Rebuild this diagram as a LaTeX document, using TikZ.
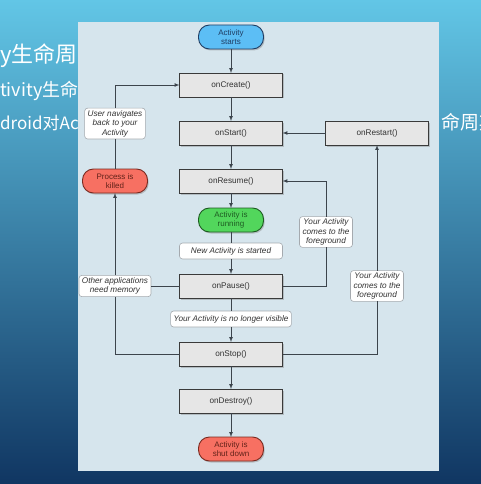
\documentclass[tikz,border=0pt]{standalone}
\usepackage{fontspec}
\setmainfont{Liberation Sans}
\newfontfamily\cjk{Noto Sans CJK SC}
\usetikzlibrary{arrows,positioning,shadows}
\definecolor{slidetop}{RGB}{98,198,230}
\definecolor{slidemid}{RGB}{58,162,212}
\definecolor{slidebot}{RGB}{16,54,98}
\definecolor{panelbg}{RGB}{214,229,237}
\definecolor{boxfill}{RGB}{230,230,230}
\definecolor{boxline}{RGB}{58,58,58}
\definecolor{flowline}{RGB}{60,68,76}
\definecolor{noteline}{RGB}{165,170,175}
\definecolor{startfill}{RGB}{92,190,245}
\definecolor{startline}{RGB}{32,62,100}
\definecolor{runfill}{RGB}{82,214,92}
\definecolor{runline}{RGB}{30,92,34}
\definecolor{endfill}{RGB}{247,112,98}
\definecolor{endline}{RGB}{122,42,32}
\tikzset{stage/.style={rectangle,draw=boxline,fill=boxfill,line width=0.9pt,outer sep=0pt,minimum width=103pt,minimum height=24pt,inner sep=0pt,text=black!80,font=\fontsize{8.2}{9}\selectfont,drop shadow={shadow xshift=1.2pt,shadow yshift=-1.5pt,opacity=0.4}}}
\tikzset{terminal/.style={rectangle,rounded corners=11pt,line width=0.9pt,outer sep=0pt,minimum width=65pt,minimum height=24pt,inner sep=0pt,align=center,font=\fontsize{8}{9}\selectfont,drop shadow={shadow xshift=1.2pt,shadow yshift=-1.5pt,opacity=0.4}}}
\tikzset{memo/.style={rectangle,rounded corners=3pt,draw=noteline,fill=white,line width=0.6pt,outer sep=0pt,inner xsep=3pt,inner ysep=2pt,align=center,text=black!80,font=\fontsize{8.2}{9.6}\selectfont\itshape}}
\tikzset{link/.style={line width=0.7pt,draw=flowline}}
\tikzset{toArrow/.style={-latex,line width=0.7pt,draw=flowline}}
\tikzset{slidetext/.style={text=white,inner sep=0pt,anchor=base west}}

\begin{document}
\begin{tikzpicture}[x=1pt,y=-1pt]
\useasboundingbox (0,0) rectangle (481,484);
\shade[top color=slidetop,middle color=slidemid,bottom color=slidebot] (0,0) rectangle (481,484);
% slide text behind the picture
\node (line1) [slidetext,font=\cjk\fontsize{22}{24}\selectfont] at (0,63) {y生命周};
\node (line2) [slidetext,font=\cjk\fontsize{18}{20}\selectfont] at (0,96) {tivity生命};
\node (line3) [slidetext,font=\cjk\fontsize{17}{19}\selectfont] at (0,129) {droid对Ac};
\node (line4) [slidetext,font=\cjk\fontsize{19}{21}\selectfont] at (441,129) {命周期};
\fill[panelbg] (78,22) rectangle (439,471);
\begin{scope}[node distance=24pt]
	\node (starts) [terminal,draw=startline,fill=startfill,text=startline] at (231,37) {Activity\\starts};
	\node (create) [stage, below=of starts] {onCreate()};
	\node (start) [stage, below=of create] {onStart()};
	\node (restart) [stage, right=43pt of start] {onRestart()};
	\node (resume) [stage, below=of start] {onResume()};
	\node (running) [terminal,draw=runline,fill=runfill,text=runline, below=15pt of resume] {Activity is\\running};
	\node (newact) [memo,minimum width=103pt,minimum height=16pt, below=11pt of running] {New Activity is started};
	\node (pause) [stage, below=15pt of newact] {onPause()};
	\node (novis) [memo,minimum height=16pt, below=13pt of pause] {Your Activity is no longer visible};
	\node (stop) [stage, below=15pt of novis] {onStop()};
	\node (destroy) [stage, below=23pt of stop] {onDestroy()};
	\node (shut) [terminal,draw=endline,fill=endfill,text=endline!80!black, below=of destroy] {Activity is\\shut down};
	\node (killed) [terminal,draw=endline,fill=endfill,text=endline!80!black, left=32pt of resume] {Process is\\killed};
	\node (usernav) [memo,minimum width=60pt, above=30pt of killed] {User navigates\\back to your\\Activity};
	\node (othermem) [memo,minimum width=72pt] at (killed |- pause) {Other applications\\need memory};
	\node (fgone) [memo,minimum width=53pt] at (326,232) {Your Activity\\comes to the\\foreground};
	\node (fgtwo) [memo,minimum width=53pt] at (restart |- pause) {Your Activity\\comes to the\\foreground};
\end{scope}
% main column
\draw [toArrow] (starts) -- (create);
\draw [toArrow] (create) -- (start);
\draw [toArrow] (start) -- (resume);
\draw [toArrow] (resume) -- (running);
\draw [link] (running) -- (newact);
\draw [toArrow] (newact) -- (pause);
\draw [link] (pause) -- (novis);
\draw [toArrow] (novis) -- (stop);
\draw [toArrow] (stop) -- (destroy);
\draw [toArrow] (destroy) -- (shut);
% loops on the right
\draw [toArrow] (restart) -- (start);
\draw [link] (stop.east) -| (fgtwo);
\draw [toArrow] (fgtwo) -- (restart);
\draw [link] (pause.east) -| (fgone);
\draw [toArrow] (fgone) |- (resume.east);
% loops on the left
\draw [link] (pause) -- (othermem);
\draw [link] (stop.west) -| (othermem);
\draw [toArrow] (othermem) -- (killed);
\draw [link] (killed) -- (usernav);
\draw [toArrow] (usernav) |- (create);
\end{tikzpicture}
\end{document}
